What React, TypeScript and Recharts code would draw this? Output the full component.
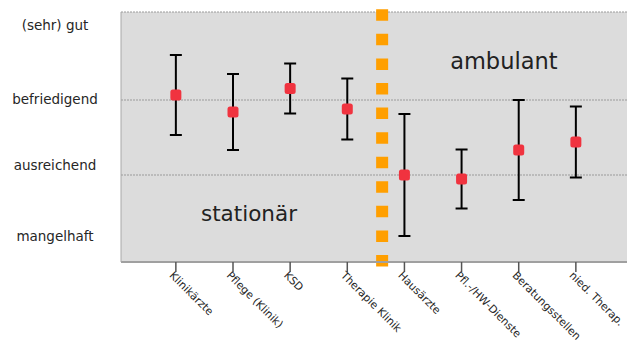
import React from 'react';
import {
  ComposedChart, Scatter, ErrorBar, XAxis, YAxis, CartesianGrid, ReferenceLine, ReferenceDot,
} from 'recharts';

// Einrichtungen (x-Achse), Reihenfolge wie im Original
const categories = [
  'Klinikärzte', 'Pflege (Klinik)', 'KSD', 'Therapie Klinik',
  'Hausärzte', 'Pfl.-/HW-Dienste', 'Beratungsstellen', 'nied. Therap.',
];
// Mittelwerte auf einer Skala 0 (unten) bis 5 (oben)
const means = [3.34, 3.0, 3.47, 3.06, 1.74, 1.66, 2.24, 2.4];
// Streuung (symmetrisch)
const spreads = [0.8, 0.76, 0.5, 0.61, 1.22, 0.59, 1.0, 0.71];

const gradeLabels = ['mangelhaft', 'ausreichend', 'befriedigend', '(sehr) gut'];
const gradePositions = [0.53, 1.94, 3.27, 4.74];
const gridLevels = [1.74, 3.24, 5];

const FONT = '"DejaVu Sans", sans-serif';

const data = categories.map((name, i) => ({ x: i + 1, name, y: means[i], err: spreads[i] }));

const YTick = (props: any) => {
  const { y, index } = props;
  return (
    <text x={55} y={y} textAnchor="middle" dominantBaseline="central" fontSize={13.5} fill="#262626" fontFamily={FONT}>
      {gradeLabels[index]}
    </text>
  );
};

const XTick = (props: any) => {
  const { x, y, payload } = props;
  const sx = x - 7;
  const sy = y + 4;
  return (
    <text x={sx} y={sy} transform={`rotate(45, ${sx}, ${sy})`} fontSize={10.8} fill="#262626" fontFamily={FONT}>
      {categories[payload.value - 1]}
    </text>
  );
};

const Marker = (props: any) => {
  const { cx, cy } = props;
  return <rect x={cx - 5.5} y={cy - 5.5} width={11} height={11} rx={2.5} fill="#f0333f" />;
};

export default function App() {
  return (
    <div style={{ position: 'absolute', left: 0, top: 0, width: 627, height: 345, background: '#fff' }}>
      <ComposedChart width={627} height={345} data={data} margin={{ top: 12, right: 0, left: 0, bottom: 0 }}>
        <CartesianGrid horizontal={false} vertical={false} fill="#dcdcdc" fillOpacity={1} />
        {gridLevels.map((v) => (
          <ReferenceLine key={v} y={v} stroke="#9a9a9a" strokeDasharray="2 1" />
        ))}
        <XAxis
          type="number"
          dataKey="x"
          domain={[0.04, 8.895]}
          ticks={[1, 2, 3, 4, 5, 6, 7, 8]}
          allowDataOverflow
          height={83}
          tickSize={10}
          tickMargin={0}
          tickLine={{ stroke: '#555', strokeWidth: 1.5 }}
          axisLine={{ stroke: '#a0a0a0', strokeWidth: 2 }}
          tick={<XTick />}
          interval={0}
        />
        <YAxis
          type="number"
          domain={[0, 5]}
          ticks={gradePositions}
          allowDataOverflow
          width={121}
          tickLine={false}
          axisLine={{ stroke: '#a8a8a8' }}
          tick={<YTick />}
          interval={0}
        />
        <ReferenceLine
          segment={[{ x: 4.61, y: 5.054 }, { x: 4.61, y: -0.094 }]}
          stroke="#ff9f00"
          strokeWidth={12}
          strokeDasharray="11.5 13.07"
          ifOverflow="visible"
        />
        <ReferenceDot x={2.28} y={0.98} r={0} fill="none" stroke="none"
          label={{ value: 'stationär', position: 'center', fontSize: 21.5, fill: '#222', fontFamily: FONT }} />
        <ReferenceDot x={6.74} y={4.02} r={0} fill="none" stroke="none"
          label={{ value: 'ambulant', position: 'center', fontSize: 22.5, fill: '#222', fontFamily: FONT }} />
        <Scatter dataKey="y" shape={<Marker />} isAnimationActive={false}>
          <ErrorBar dataKey="err" direction="y" width={6} stroke="#000" strokeWidth={2} />
        </Scatter>
      </ComposedChart>
    </div>
  );
}
